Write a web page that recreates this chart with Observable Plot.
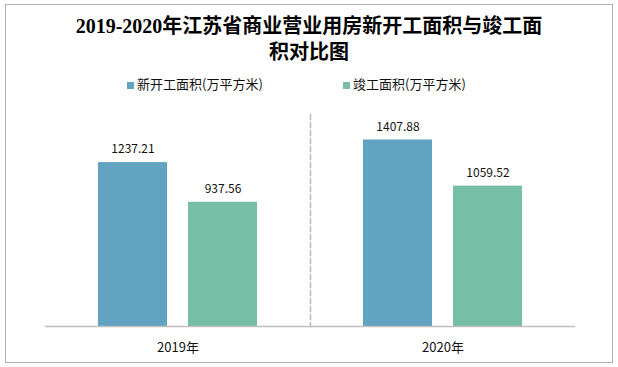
<!DOCTYPE html>
<html><head><meta charset="utf-8">
<script src="https://cdn.jsdelivr.net/npm/d3@7"></script>
<script src="https://cdn.jsdelivr.net/npm/@observablehq/plot@0.6"></script>
<style>
body{margin:0;background:#fff;}
#wrap{position:relative;width:618px;height:367px;overflow:hidden;background:#fff;font-family:"Noto Sans CJK SC","Liberation Sans",sans-serif;}
#border{position:absolute;left:5px;top:4px;width:608px;height:359px;border:1px solid #b0b0b0;box-sizing:border-box;}
#title{position:absolute;left:0;top:13px;width:618px;text-align:center;font:bold 20px/26px "Liberation Serif","Noto Sans CJK SC",serif;color:#000;}
.leg{position:absolute;top:75px;font-size:13px;line-height:18px;color:#111;white-space:nowrap;}
.sw{display:inline-block;width:7px;height:7px;margin-right:3px;vertical-align:0px;}
#chart{position:absolute;left:0;top:100px;}
</style></head>
<body>
<div id="wrap">
  <div id="border"></div>
  <div id="title"></div>
  <div id="legend"></div>
  <div id="chart"></div>
</div>
<script>
const titleLines = ["2019-2020年江苏省商业营业用房新开工面积与竣工面", "积对比图"];
const years = ["2019年", "2020年"];
const seriesNames = ["新开工面积(万平方米)", "竣工面积(万平方米)"];
const newStartArea = [1237.21, 1407.88];
const completedArea = [937.56, 1059.52];
const colors = ["#62a3c2", "#76bfa6"];

document.getElementById("title").innerHTML = titleLines.join("<br>");
const legendLeft = [127, 343];
document.getElementById("legend").innerHTML = seriesNames.map((s, i) =>
  `<div class="leg" style="left:${legendLeft[i]}px"><span class="sw" style="background:${colors[i]}"></span>${s}</div>`).join("");

const data = years.flatMap((y, i) => [
  {year: y, series: seriesNames[0], value: newStartArea[i]},
  {year: y, series: seriesNames[1], value: completedArea[i]}
]);

const chart = Plot.plot({
  width: 618, height: 267,
  marginLeft: 44, marginRight: 43, marginTop: 14, marginBottom: 41,
  style: {fontFamily: '"Noto Sans CJK SC","Liberation Sans",sans-serif', color: "#111", background: "transparent"},
  fx: {domain: years, padding: 0, label: null},
  x: {domain: seriesNames, paddingInner: 0.23, paddingOuter: 0.576, axis: null},
  y: {domain: [0, 1600], axis: null},
  color: {domain: seriesNames, range: colors},
  marks: [
    Plot.barY(data, {fx: "year", x: "series", y: "value", fill: "series"}),
    Plot.text(data, {fx: "year", x: "series", y: "value", text: d => d.value.toFixed(2), dy: -13, fontSize: 12, fill: "#111"}),
    Plot.ruleY([0], {stroke: "#bfbfbf", strokeWidth: 1.5}),
    Plot.frame({fx: () => years[1], anchor: "left", stroke: "#bdbdbd", strokeWidth: 1.5, strokeDasharray: "5,3"}),
    Plot.axisFx({anchor: "bottom", tickSize: 0, tickPadding: 16, fontSize: 13, label: null})
  ]
});
document.getElementById("chart").appendChild(chart);
</script>
</body></html>
